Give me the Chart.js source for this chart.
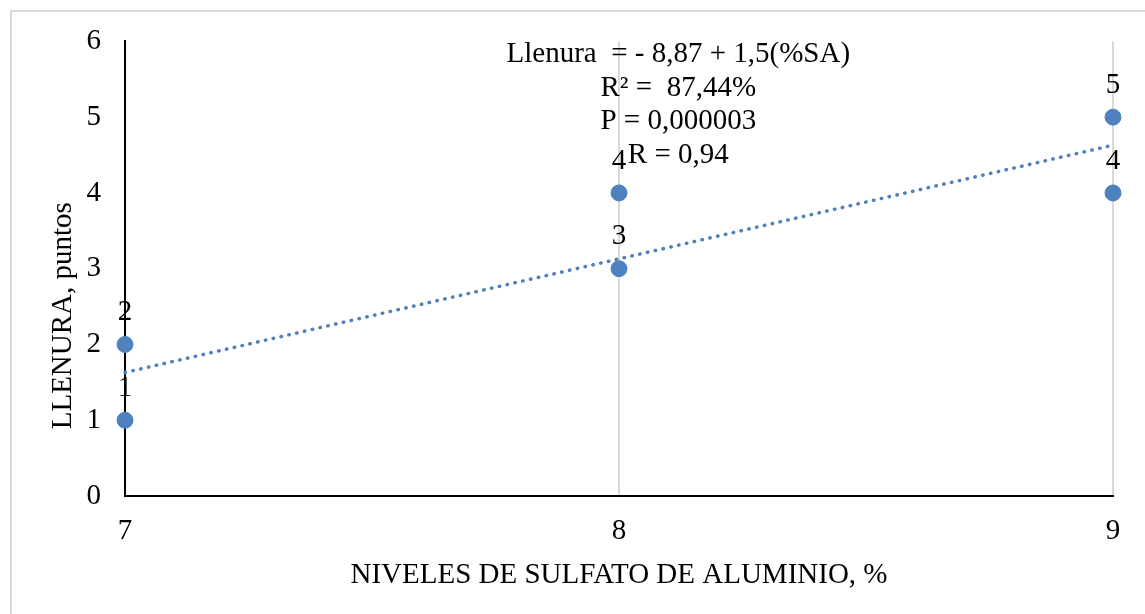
<!DOCTYPE html>
<html>
<head>
<meta charset="utf-8">
<script src="https://cdn.jsdelivr.net/npm/chart.js@4.4.0/dist/chart.umd.min.js"></script>
<style>
    html, body { margin: 0; padding: 0; background: #fff; }
    #wrap { position: relative; width: 1145px; height: 614px; }
    #frame { position: absolute; left: 10px; top: 10px; width: 1150px; height: 620px;
             border-left: 2px solid #d9d9d9; border-top: 2px solid #d9d9d9; box-sizing: border-box; }
    canvas { position: absolute; left: 0; top: 0; }
</style>
</head>
<body>
<div id="wrap">
    <div id="frame"></div>
    <canvas id="chart" width="1145" height="614"></canvas>
</div>
<script>
// Data
const xValues = [7, 7, 8, 8, 9, 9];
const yValues = [1, 2, 3, 4, 4, 5];
const pointLabels = ['1', '2', '3', '4', '4', '5'];

// Linear trend (Llenura = -8,87 + 1,5 x) end points
const trendX = [7, 9];
const trendY = [1.63, 4.63];

const xTicks = [7, 8, 9];
const yTicks = [0, 1, 2, 3, 4, 5, 6];

const annotationLines = [
    'Llenura  = - 8,87 + 1,5(%SA)',
    'R² =  87,44%',
    'P = 0,000003',
    'R = 0,94'
];

const FONT = '"Liberation Serif", "Times New Roman", serif';
const FSIZE = 29;
const BLUE = '#4e81bd';

// Draws point labels, the equation text and the y title
const textPlugin = {
    id: 'textPlugin',
    afterDatasetsDraw(chart) {
        const ctx = chart.ctx;
        const xs = chart.scales.x;
        ctx.save();
        ctx.fillStyle = '#000';
        ctx.textAlign = 'center';
        ctx.textBaseline = 'middle';
        ctx.font = FSIZE + 'px ' + FONT;

        // point labels
        chart.getDatasetMeta(0).data.forEach((pt, i) => {
            ctx.fillText(pointLabels[i], pt.x, pt.y - 32);
        });

        // equation block
        const cx = xs.getPixelForValue(8.12);
        annotationLines.forEach((line, i) => {
            ctx.fillText(line, cx, chart.chartArea.top + 13 + i * 33.5);
        });

        // y axis title
        ctx.translate(63, (chart.chartArea.top + chart.chartArea.bottom) / 2 + 47);
        ctx.rotate(-Math.PI / 2);
        ctx.fillText('LLENURA, puntos', 0, 0);
        ctx.restore();
    }
};

const ctx = document.getElementById('chart').getContext('2d');
new Chart(ctx, {
    type: 'scatter',
    data: {
        datasets: [
            {
                label: 'Llenura',
                data: xValues.map((x, i) => ({ x: x, y: yValues[i] })),
                backgroundColor: BLUE,
                borderColor: BLUE,
                pointRadius: 8,
                pointHoverRadius: 8,
                clip: false,
                order: 1
            },
            {
                label: 'Tendencia',
                type: 'line',
                data: trendX.map((x, i) => ({ x: x, y: trendY[i] })),
                borderColor: BLUE,
                borderWidth: 3.5,
                borderDash: [0.5, 7.5],
                borderCapStyle: 'round',
                pointRadius: 0,
                fill: false,
                clip: false,
                order: 2
            }
        ]
    },
    options: {
        responsive: false,
        animation: false,
        events: [],
        layout: { padding: { left: 0, right: 32, top: 40, bottom: 0 } },
        plugins: {
            legend: { display: false },
            tooltip: { enabled: false }
        },
        scales: {
            x: {
                type: 'linear',
                min: 7,
                max: 9,
                afterBuildTicks: (axis) => { axis.ticks = xTicks.map(v => ({ value: v })); },
                afterFit: (axis) => { axis.height = 118; },
                grid: { display: true, color: '#d9d9d9', lineWidth: 2, drawTicks: false },
                border: { display: true, color: '#000', width: 2 },
                ticks: { color: '#000', font: { family: FONT, size: FSIZE }, padding: 18 },
                title: {
                    display: true,
                    text: 'NIVELES DE SULFATO DE ALUMINIO, %',
                    color: '#000',
                    font: { family: FONT, size: FSIZE },
                    padding: { top: 4, bottom: 21 }
                }
            },
            y: {
                min: 0,
                max: 6,
                afterBuildTicks: (axis) => { axis.ticks = yTicks.map(v => ({ value: v })); },
                afterFit: (axis) => { axis.width = 125; },
                grid: { display: false, drawTicks: false },
                border: { display: true, color: '#000', width: 2 },
                ticks: { color: '#000', font: { family: FONT, size: FSIZE }, padding: 24 }
            }
        }
    },
    plugins: [textPlugin]
});
</script>
</body>
</html>
